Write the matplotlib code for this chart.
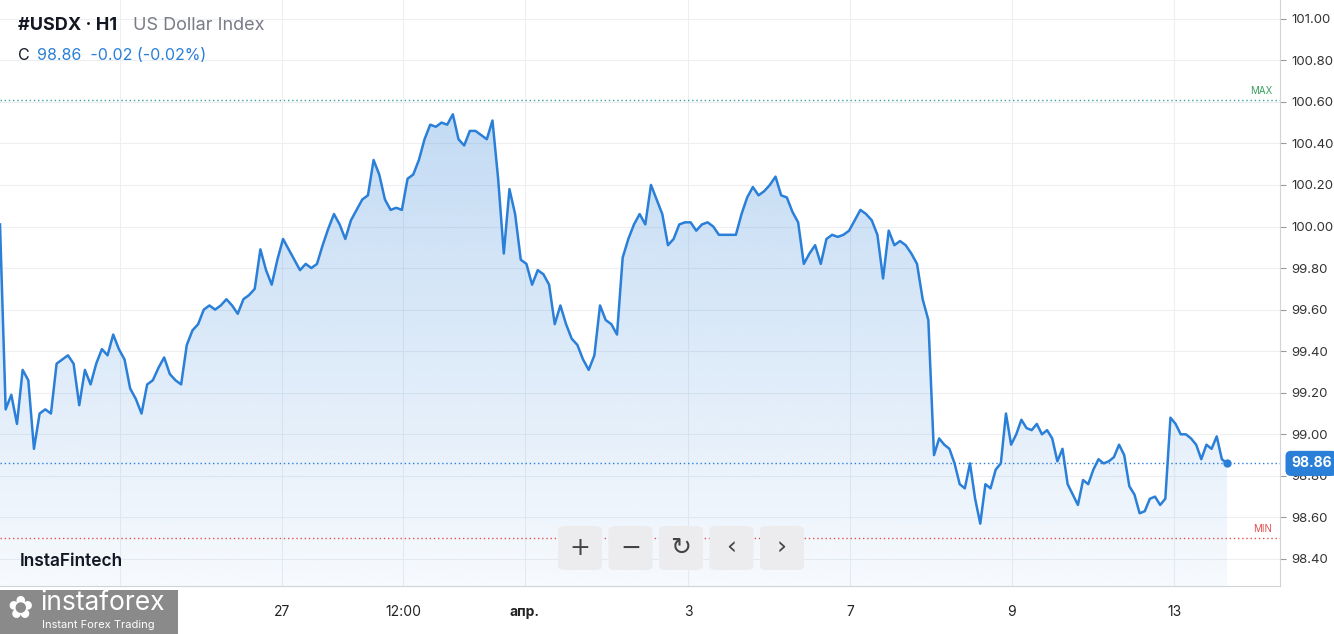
import numpy as np
import matplotlib.pyplot as plt
from matplotlib.patches import FancyBboxPatch, Rectangle, Polygon

prices = [
    100.01, 99.12, 99.19, 99.05, 99.31, 99.26, 98.93, 99.10, 99.12, 99.10,
    99.34, 99.36, 99.38, 99.34, 99.14, 99.31, 99.24, 99.34, 99.41, 99.38,
    99.48, 99.41, 99.36, 99.22, 99.17, 99.10, 99.24, 99.26, 99.32, 99.37,
    99.29, 99.26, 99.24, 99.43, 99.50, 99.53, 99.60, 99.62, 99.60, 99.62,
    99.65, 99.62, 99.58, 99.65, 99.67, 99.70, 99.89, 99.79, 99.72, 99.84,
    99.94, 99.89, 99.84, 99.79, 99.82, 99.80, 99.82, 99.91, 99.99, 100.06,
    100.01, 99.94, 100.03, 100.08, 100.13, 100.15, 100.32, 100.25, 100.13, 100.08,
    100.09, 100.08, 100.23, 100.25, 100.32, 100.42, 100.49, 100.48, 100.50, 100.49,
    100.54, 100.42, 100.39, 100.46, 100.46, 100.44, 100.42, 100.51, 100.23, 99.87,
    100.18, 100.06, 99.84, 99.82, 99.72, 99.79, 99.77, 99.72, 99.53, 99.62,
    99.53, 99.46, 99.43, 99.36, 99.31, 99.38, 99.62, 99.55, 99.53, 99.48,
    99.85, 99.94, 100.01, 100.06, 100.01, 100.20, 100.13, 100.06, 99.91, 99.94,
    100.01, 100.02, 100.02, 99.98, 100.01, 100.02, 100.00, 99.96, 99.96, 99.96,
    99.96, 100.06, 100.14, 100.19, 100.15, 100.17, 100.20, 100.24, 100.15, 100.14,
    100.07, 100.02, 99.82, 99.87, 99.91, 99.82, 99.94, 99.96, 99.95, 99.96,
    99.98, 100.03, 100.08, 100.06, 100.03, 99.96, 99.75, 99.98, 99.91, 99.93,
    99.91, 99.87, 99.82, 99.65, 99.55, 98.90, 98.98, 98.95, 98.93, 98.86,
    98.76, 98.74, 98.86, 98.69, 98.57, 98.76, 98.74, 98.83, 98.86, 99.10,
    98.95, 99.00, 99.07, 99.03, 99.02, 99.05, 99.00, 99.02, 98.98, 98.87,
    98.93, 98.76, 98.71, 98.66, 98.78, 98.76, 98.83, 98.88, 98.86, 98.87,
    98.89, 98.95, 98.90, 98.75, 98.71, 98.62, 98.63, 98.69, 98.70, 98.66,
    98.69, 99.08, 99.05, 99.00, 99.00, 98.98, 98.95, 98.88, 98.95, 98.93,
    98.99, 98.88, 98.86,
]
tick_pos = [120, 282, 403, 525, 688, 850, 1012, 1174]
tick_labels = ["25", "27", "12:00", "апр.", "3", "7", "9", "13"]
yticks = [98.40, 98.60, 98.80, 99.00, 99.20, 99.40, 99.60, 99.80,
          100.00, 100.20, 100.40, 100.60, 100.80, 101.00]
last_price = 98.86
max_level = 100.61
min_level = 98.50

plt.rcParams['font.family'] = ['Inter', 'DejaVu Sans']
blue = "#2a7fd8"

# bars are not evenly spread in time on the chart: the drop sits a bit later
n = len(prices)
split = 165
x = np.r_[np.linspace(0, 934, split + 1)[:-1], np.linspace(934, 1227, n - split)]
ymin, ymax = 98.27, 101.09

fig = plt.figure(figsize=(13.34, 6.34), dpi=100)
ax = fig.add_axes([0, 48 / 634, 1280 / 1334, 586 / 634])
ax.set_xlim(0, 1280)
ax.set_ylim(ymin, ymax)

for t in tick_pos:
    ax.axvline(t, color="#eeeff2", lw=0.8, zorder=0)
for t in yticks:
    ax.axhline(t, color="#eeeff2", lw=0.8, zorder=0)

# gradient fill under line
grad = np.linspace(0.04, 0.34, 256).reshape(-1, 1)
cmap = plt.matplotlib.colors.LinearSegmentedColormap.from_list(
    "g", [(0.16, 0.5, 0.85, 0), (0.16, 0.5, 0.85, 1)])
im = ax.imshow(grad, extent=[0, x[-1], ymin, ymax], origin="lower",
               aspect="auto", cmap=cmap, vmin=0, vmax=1, zorder=1)
poly = Polygon(np.column_stack([np.r_[x, x[-1], x[0]], np.r_[prices, ymin, ymin]]),
               closed=True, transform=ax.transData, facecolor="none", edgecolor="none")
ax.add_patch(poly)
im.set_clip_path(poly)

ax.plot(x, prices, color=blue, lw=1.8, zorder=3)
ax.plot(x[-1], prices[-1], "o", color=blue, ms=5, zorder=4)

ax.axhline(last_price, color=blue, lw=1, ls=(0, (1, 2)), zorder=2)
ax.axhline(max_level, color="#3aa0a0", lw=1, ls=(0, (1, 2)), zorder=2)
ax.axhline(min_level, color="#e05050", lw=1, ls=(0, (1, 2)), zorder=2)
ax.text(1272, max_level + 0.02, "MAX", color="#3aa060", fontsize=7, ha="right", va="bottom")
ax.text(1272, min_level + 0.02, "MIN", color="#e05050", fontsize=7, ha="right", va="bottom")

ax.set_xticks(tick_pos)
ax.set_xticklabels(tick_labels, fontsize=10, color="#222")
ax.get_xticklabels()[3].set_fontweight("bold")
ax.yaxis.tick_right()
ax.set_yticks(yticks)
ax.set_yticklabels([f"{v:.2f}" for v in yticks], fontsize=9.5, color="#333")
ax.tick_params(axis="y", length=4, color="#999", pad=4)
ax.tick_params(axis="x", length=0, pad=14)
for s in ["top", "left"]:
    ax.spines[s].set_visible(False)
ax.spines["right"].set_color("#d0d3d8")
ax.spines["bottom"].set_color("#d0d3d8")

ax.text(1.0245, last_price, f"{last_price:.2f}", transform=ax.get_yaxis_transform(),
        ha="center", va="center", fontsize=10, color="white", fontweight="bold",
        bbox=dict(boxstyle="round,pad=0.35", fc=blue, ec=blue))

# header
fig.text(18 / 1334, 1 - 26 / 634, "#USDX · H1", fontsize=13, fontweight="bold",
         color="#131722", va="center")
fig.text(133 / 1334, 1 - 26 / 634, "US Dollar Index", fontsize=13, color="#787b86", va="center")
fig.text(18 / 1334, 1 - 55 / 634, "C", fontsize=11.5, color="#131722", va="center")
fig.text(37 / 1334, 1 - 55 / 634, "98.86  -0.02 (-0.02%)", fontsize=11.5, color=blue, va="center")
fig.text(20 / 1334, 1 - 562 / 634, "InstaFintech", fontsize=12.5, color="#131722",
         va="center", fontweight="semibold")

# zoom controls
for i, sym in enumerate(["+", "−", "↻", "‹", "›"]):
    cx = 580 + i * 50.5
    fig.patches.append(FancyBboxPatch(((cx - 22) / 1334, 1 - 570 / 634), 44 / 1334, 44 / 634,
                                      boxstyle="round,pad=0,rounding_size=0.006",
                                      transform=fig.transFigure, fc="#ececee", ec="none"))
    fig.text(cx / 1334, 1 - 548 / 634, sym, fontsize=18, color="#444",
             ha="center", va="center", family=["DejaVu Sans"])

# logo
fig.patches.append(Rectangle((0, 0), 178 / 1334, 44 / 634, transform=fig.transFigure,
                             fc="#8a8a8a", ec="none", zorder=5))
fig.text(40 / 1334, 1 - 603 / 634, "instaforex", fontsize=19, color="white", va="center", zorder=6)
fig.text(42 / 1334, 1 - 625 / 634, "Instant Forex Trading", fontsize=8, color="white",
         va="center", zorder=6)
fig.text(20 / 1334, 1 - 610 / 634, "✿", fontsize=22, color="white", ha="center",
         va="center", family=["DejaVu Sans"], zorder=6)

fig.savefig("out.png", dpi=100)
